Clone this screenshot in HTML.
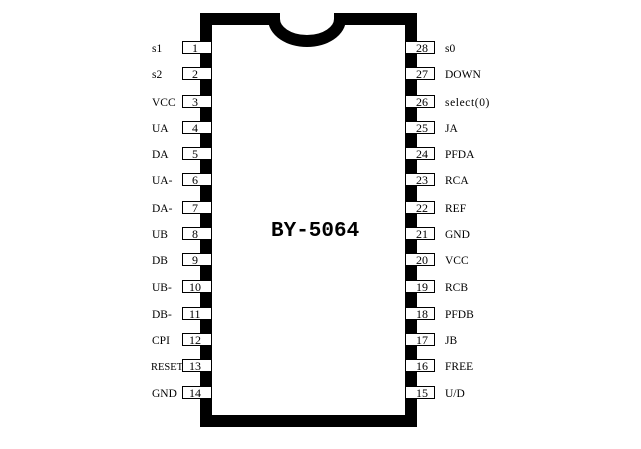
<!DOCTYPE html>
<html><head><meta charset="utf-8"><style>
html,body{margin:0;padding:0;background:#fff;}
svg{display:block}
text{font-family:"Liberation Serif",serif;font-size:11.5px;fill:#000}
.n{font-size:12px}
</style></head><body>
<svg width="641" height="449" viewBox="0 0 641 449">
<path d="M206 19 H274 A33 22 0 0 0 340 19 H411 V421 H206 Z" fill="none" stroke="#000" stroke-width="12"/>
<g fill="#fff" stroke="#000" stroke-width="1">
<rect x="182.5" y="41.5" width="29" height="12"/>
<rect x="182.5" y="67.5" width="29" height="12"/>
<rect x="182.5" y="95.5" width="29" height="12"/>
<rect x="182.5" y="121.5" width="29" height="12"/>
<rect x="182.5" y="147.5" width="29" height="12"/>
<rect x="182.5" y="173.5" width="29" height="12"/>
<rect x="182.5" y="201.5" width="29" height="12"/>
<rect x="182.5" y="227.5" width="29" height="12"/>
<rect x="182.5" y="253.5" width="29" height="12"/>
<rect x="182.5" y="280.5" width="29" height="12"/>
<rect x="182.5" y="307.5" width="29" height="12"/>
<rect x="182.5" y="333.5" width="29" height="12"/>
<rect x="182.5" y="359.5" width="29" height="12"/>
<rect x="182.5" y="386.5" width="29" height="12"/>
<rect x="405.5" y="41.5" width="29" height="12"/>
<rect x="405.5" y="67.5" width="29" height="12"/>
<rect x="405.5" y="95.5" width="29" height="12"/>
<rect x="405.5" y="121.5" width="29" height="12"/>
<rect x="405.5" y="147.5" width="29" height="12"/>
<rect x="405.5" y="173.5" width="29" height="12"/>
<rect x="405.5" y="201.5" width="29" height="12"/>
<rect x="405.5" y="227.5" width="29" height="12"/>
<rect x="405.5" y="253.5" width="29" height="12"/>
<rect x="405.5" y="280.5" width="29" height="12"/>
<rect x="405.5" y="307.5" width="29" height="12"/>
<rect x="405.5" y="333.5" width="29" height="12"/>
<rect x="405.5" y="359.5" width="29" height="12"/>
<rect x="405.5" y="386.5" width="29" height="12"/>
</g>
<g>
<text x="152" y="52">s1</text><text x="152" y="78">s2</text><text x="152" y="106">VCC</text>
<text x="152" y="132">UA</text><text x="152" y="158">DA</text><text x="152" y="184">UA-</text>
<text x="152" y="212">DA-</text><text x="152" y="238">UB</text><text x="152" y="264">DB</text>
<text x="152" y="291">UB-</text><text x="152" y="318">DB-</text><text x="152" y="344">CPI</text>
<text x="151" y="370" style="font-size:10.5px">RESET</text><text x="152" y="397">GND</text>
<text x="445" y="52">s0</text><text x="445" y="78">DOWN</text><text x="445" y="106" style="letter-spacing:0.6px">select(0)</text>
<text x="445" y="132">JA</text><text x="445" y="158">PFDA</text><text x="445" y="184">RCA</text>
<text x="445" y="212">REF</text><text x="445" y="238">GND</text><text x="445" y="264">VCC</text>
<text x="445" y="291">RCB</text><text x="445" y="318">PFDB</text><text x="445" y="344">JB</text>
<text x="445" y="370">FREE</text><text x="445" y="397">U/D</text>
</g>
<g>
<text class="n" x="192" y="52">1</text><text class="n" x="192" y="78">2</text><text class="n" x="192" y="106">3</text>
<text class="n" x="192" y="132">4</text><text class="n" x="192" y="158">5</text><text class="n" x="192" y="184">6</text>
<text class="n" x="192" y="212">7</text><text class="n" x="192" y="238">8</text><text class="n" x="192" y="264">9</text>
<text class="n" x="189" y="291">10</text><text class="n" x="189" y="318">11</text><text class="n" x="189" y="344">12</text>
<text class="n" x="189" y="370">13</text><text class="n" x="189" y="397">14</text>
<text class="n" x="416" y="52">28</text><text class="n" x="416" y="78">27</text><text class="n" x="416" y="106">26</text>
<text class="n" x="416" y="132">25</text><text class="n" x="416" y="158">24</text><text class="n" x="416" y="184">23</text>
<text class="n" x="416" y="212">22</text><text class="n" x="416" y="238">21</text><text class="n" x="416" y="264">20</text>
<text class="n" x="416" y="291">19</text><text class="n" x="416" y="318">18</text><text class="n" x="416" y="344">17</text>
<text class="n" x="416" y="370">16</text><text class="n" x="416" y="397">15</text>
</g>
<text x="271" y="236" style="font-family:'Liberation Mono',monospace;font-weight:bold;font-size:21px">BY-5064</text>
</svg>
</body></html>
